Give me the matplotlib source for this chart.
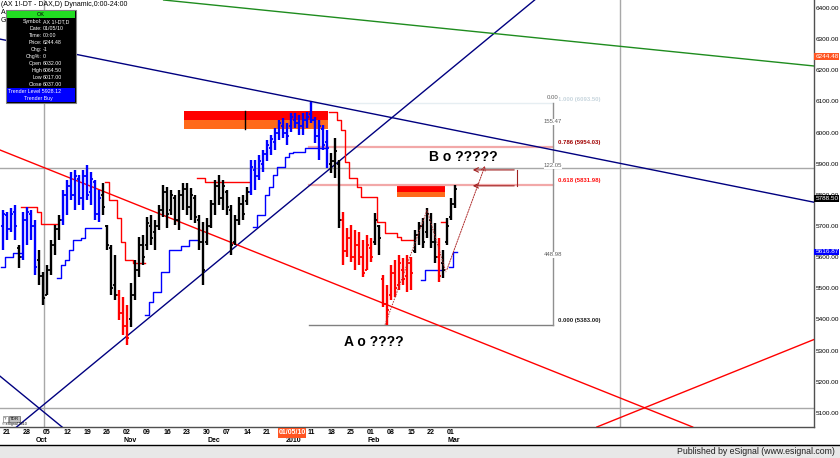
import matplotlib
matplotlib.use('Agg')
import matplotlib.pyplot as plt
import matplotlib.transforms as mtrans
from matplotlib.patches import Rectangle
import numpy as np
import pandas as pd

plt.rcParams['font.family'] = ['Liberation Sans', 'DejaVu Sans']

# ---------------- data ----------------
holidays = ['2009-12-24', '2009-12-25', '2009-12-31', '2010-01-01']
dates = [d for d in pd.bdate_range('2009-09-18', '2010-03-02')
         if d.strftime('%Y-%m-%d') not in holidays]
x = np.arange(len(dates)) - 1          # 0 = Mon 21 Sep 2009

high = [5751,5745,5758,5767,5639,5745,5761,5751,5719,5623,5552,
        5575,5655,5703,5735,5816,5848,5873,5880,5864,5880,
        5896,5873,5848,5816,5838,5703,5639,5607,5495,5472,
        5446,5517,5591,5665,5671,5729,5735,5719,5767,5832,
        5825,5816,5800,5816,5838,5838,5822,5800,5735,5713,
        5726,5783,5848,5864,5848,5816,5767,5735,5793,5800,
        5825,5912,5912,5928,5944,5976,5992,6015,6040,6047,
        6031,6063,6063,6056,6063,6066,6098,6050,6040,6024,
        6008,5934,5982,5912,5745,5694,5703,5687,5681,5655,
        5671,5661,5742,5703,5543,5511,5575,5591,5607,5597,
        5607,5600,5687,5713,5726,5758,5742,5710,5661,5623,
        5726,5790,5832]
low = [5623,5655,5681,5655,5565,5591,5639,5655,5543,5511,5446,
       5479,5543,5607,5655,5703,5735,5783,5751,5767,5751,
       5783,5767,5719,5713,5735,5623,5479,5462,5398,5350,
       5318,5376,5462,5536,5575,5623,5639,5623,5687,5729,
       5694,5735,5703,5687,5751,5735,5719,5710,5623,5511,
       5639,5694,5735,5767,5751,5735,5607,5639,5703,5719,
       5767,5800,5816,5848,5873,5909,5928,5944,5976,5982,
       5960,6002,6015,5992,5992,6015,6031,5966,5912,5944,
       5886,5870,5854,5694,5575,5600,5584,5559,5575,5536,
       5559,5584,5639,5607,5440,5382,5462,5472,5495,5511,
       5488,5495,5613,5639,5629,5661,5629,5581,5520,5533,
       5639,5719,5758]
opn = [5700,5735,5690,5745,5630,5600,5720,5740,5700,5590,5540,
       5480,5560,5640,5690,5720,5800,5830,5800,5850,5790,
       5860,5810,5840,5740,5800,5700,5630,5510,5480,5420,
       5380,5400,5480,5560,5640,5640,5700,5680,5700,5750,
       5810,5750,5790,5720,5800,5820,5760,5790,5720,5650,
       5650,5700,5770,5830,5790,5810,5750,5650,5720,5770,
       5780,5810,5880,5860,5900,5930,5950,5970,6000,6020,
       6000,6020,6040,6030,6020,6040,6060,6040,5990,6010,
       5970,5900,5910,5900,5720,5620,5660,5600,5640,5600,
       5560,5630,5650,5700,5530,5450,5480,5550,5510,5560,
       5540,5580,5620,5670,5700,5680,5720,5650,5600,5580,
       5650,5730,5770]
cls = [5740,5690,5740,5700,5600,5720,5745,5700,5570,5540,5470,
       5560,5640,5690,5720,5800,5830,5800,5860,5790,5860,
       5800,5850,5740,5790,5760,5640,5500,5480,5420,5380,
       5340,5480,5560,5640,5600,5710,5660,5700,5750,5810,
       5740,5800,5720,5800,5820,5760,5800,5730,5650,5560,
       5700,5770,5830,5790,5830,5760,5640,5720,5770,5740,
       5810,5890,5860,5910,5930,5960,5980,6000,6030,6000,
       5990,6050,6030,6020,6040,6050,6040,5990,6020,5960,
       5950,5910,5940,5720,5620,5660,5600,5640,5600,5550,
       5640,5600,5720,5660,5450,5430,5550,5500,5580,5530,
       5580,5550,5670,5700,5650,5740,5650,5600,5540,5560,
       5700,5770,5820]
bar_color = ("bbbb" "k" "bbbb" "kkkkkk" "bbbbbbbbbb" "kkkk" "rrr"
             "kkkkkkkkkkkkkkkkkkkkkkkkkkkkkk" "bbbbbbbbbbbbbbbbbbbb"
             "kkk" "rrrrrrrr" "kk" "rrrrrrrr" "kkkkkk" "r" "kkkk")

trender_blue = {-1: 5568, 0: 5600, 1: 5600, 2: 5613, 3: 5613,
                13: 5533, 14: 5575, 15: 5591, 16: 5623, 17: 5655, 18: 5655,
                19: 5661, 20: 5694, 21: 5694, 22: 5694, 23: 5694,
                35: 5414, 36: 5456, 37: 5488, 38: 5488, 39: 5552, 40: 5552,
                41: 5623, 42: 5623, 43: 5623, 44: 5636, 45: 5636, 46: 5655, 47: 5655,
                62: 5697, 63: 5735, 64: 5735, 65: 5800, 66: 5825, 67: 5864,
                68: 5889, 69: 5889, 70: 5921, 71: 5934, 72: 5938, 73: 5938,
                74: 5938, 75: 5950, 76: 5950, 77: 5950, 78: 5950, 79: 5950,
                104: 5527, 105: 5559, 106: 5559, 107: 5559, 108: 5559,
                111: 5568, 112: 5617}
trender_red = {4: 5761, 5: 5761, 6: 5761, 7: 5761, 8: 5745, 9: 5706, 10: 5706,
               11: 5706, 12: 5706,
               25: 5841, 26: 5783, 27: 5783, 28: 5726, 29: 5649, 30: 5591,
               31: 5591, 32: 5581, 33: 5581, 34: 5581,
               48: 5854, 49: 5854, 50: 5841, 51: 5841, 52: 5841, 53: 5841,
               54: 5841, 55: 5841, 56: 5841, 57: 5841, 58: 5841, 59: 5841, 60: 5841,
               81: 6066, 82: 6066, 83: 6040, 84: 6008, 85: 5905, 86: 5854,
               87: 5854, 88: 5825, 89: 5793, 90: 5793, 91: 5793, 92: 5793,
               93: 5713, 94: 5713, 95: 5678, 96: 5678, 97: 5678, 98: 5665,
               99: 5655, 100: 5655, 101: 5655,
               109: 5713}

# trend lines: two anchor points each (bar index, price)
navy_lines = [[(-1.75, 6300), (201.5, 5777)],
              [(25.75, 5302), (85.75, 5937)],
              [(-1.75, 5218), (13.75, 5055)]]
green_lines = [[(103.25, 6342), (201.5, 6214)]]
red_lines = [[(-1.75, 5944), (159.5, 5116)],
             [(147.5, 5055), (202.0, 5337)]]

# fibonacci tool
fib_start, fib_end = 75.5, 136.5
fib_levels = [("1.000", 6093.50), ("0.786", 5954.03), ("0.618", 5831.98), ("0.000", 5383.00)]
fib_measures = [("0.00", 6111), ("155.47", 6034), ("122.05", 5893), ("448.98", 5607)]

# supply zones: (x0, x1, red top, red/orange split, orange bottom)
zones = [(44.25, 80.25, 6069, 6040, 6011),
         (97.5, 109.5, 5832, 5809, 5793)]

zigzag = [(94.5, 5383), (105.0, 5751), (109.75, 5552), (119.75, 5902)]
target_box = (115.75, 127.5, 5880, 5829)

yticks = list(range(5100, 6401, 100))

# ---------------- figure ----------------
W, H = 840, 458
fig = plt.figure(figsize=(W / 100, H / 100), dpi=100)
fig.patch.set_facecolor('white')
ax = fig.add_axes([0, (H - 427) / H, 814 / W, 427 / H])
ax.set_xlim(-1.75, 201.75)
ax.set_ylim(5054.8, 6425.5)
ax.set_facecolor('white')
for s in ['left', 'top']:
    ax.spines[s].set_visible(False)
for s in ['right', 'bottom']:
    ax.spines[s].set_color('#505050')
    ax.spines[s].set_linewidth(1.0)
ax.set_xticks([])
ax.yaxis.tick_right()
ax.set_yticks(yticks)
ax.set_yticklabels([f"{v:.2f}" for v in yticks])
ax.tick_params(axis='y', length=0, pad=1.2, labelsize=4.6, labelcolor='black')

# crosshair-like gray lines
for xv in (9.25, 153.25):
    ax.axvline(xv, color='#A8A8A8', lw=1.0, zorder=1)
for yv in (5886, 5116):
    ax.axhline(yv, color='#A8A8A8', lw=1.0, zorder=1)

# zones
for x0, x1, top, mid, bot in zones:
    ax.add_patch(Rectangle((x0, mid), x1 - x0, top - mid, facecolor='#FF0000',
                           edgecolor='none', zorder=2))
    ax.add_patch(Rectangle((x0, bot), x1 - x0, mid - bot, facecolor='#FF6A1A',
                           edgecolor='none', zorder=2))
ax.plot([59.5, 59.5], [6011, 6069], color='black', lw=1.0, zorder=2.5)

# fib
fib_colors = {"1.000": '#E6EEF2', "0.786": '#F2A8A8', "0.618": '#F2A8A8', "0.000": '#808080'}
fib_lw = {"1.000": 1.0, "0.786": 1.6, "0.618": 1.6, "0.000": 1.0}
for name, lev in fib_levels:
    ax.plot([fib_start, fib_end], [lev, lev], color=fib_colors[name], lw=fib_lw[name], zorder=2)
ax.plot([fib_end, fib_end], [5383.0, 6093.5], color='#909090', lw=1.0, zorder=2)
lab_colors = {"1.000": '#C8D6DE', "0.786": '#A00000', "0.618": '#FF1010', "0.000": '#202020'}
for name, lev in fib_levels:
    ax.text(fib_end + 1.2, lev + 13, f"{name} ({lev:.2f})", fontsize=4.3,
            color=lab_colors[name], fontweight='bold', va='center', ha='left', zorder=6)
for txt, pv in fib_measures:
    ax.text(fib_end, pv, txt, fontsize=4.3, color='#606060', ha='center', va='center',
            zorder=6, bbox=dict(facecolor='white', edgecolor='none', pad=0.2))

# trend lines
for p1, p2 in navy_lines:
    ax.axline(p1, p2, color='#000080', lw=1.0, zorder=3)
for p1, p2 in green_lines:
    ax.axline(p1, p2, color='#1E8C1E', lw=1.0, zorder=3)
for p1, p2 in red_lines:
    ax.axline(p1, p2, color='#FF0000', lw=1.0, zorder=3)


def draw_steps(levels, color):
    idxs = sorted(levels)
    runs, cur = [], [idxs[0]]
    for i in idxs[1:]:
        if i == cur[-1] + 1:
            cur.append(i)
        else:
            runs.append(cur)
            cur = [i]
    runs.append(cur)
    for run in runs:
        xs, ys = [], []
        for i in run:
            xs += [i - 0.5, i + 0.5]
            ys += [levels[i], levels[i]]
        ax.plot(xs, ys, color=color, lw=1.0, zorder=4)


draw_steps(trender_blue, '#0000FF')
draw_steps(trender_red, '#FF0000')

# price bars
cmap = {'b': '#0000FF', 'k': '#000000', 'r': '#FF0000'}
cols = [cmap[c] for c in bar_color]
ax.vlines(x, low, high, colors=cols, lw=1.7, zorder=5)
ax.hlines(opn, x - 0.6, x, colors=cols, lw=1.3, zorder=5)
ax.hlines(cls, x, x + 0.6, colors=cols, lw=1.3, zorder=5)

# projection zigzag
zx = [p[0] for p in zigzag]
zy = [p[1] for p in zigzag]
ax.plot(zx[:-1], zy[:-1], color='#B03030', lw=0.7, ls=(0, (1.5, 1.2)), zorder=6)
ax.annotate('', xy=zigzag[-1], xytext=zigzag[-2],
            arrowprops=dict(arrowstyle='->', color='#B03030', lw=0.7, ls=(0, (1.5, 1.2)),
                            mutation_scale=7), zorder=6)
bx0, bx1, by0, by1 = target_box
ax.plot([bx1, bx1], [by0, by1], color='#A02020', lw=0.8, zorder=6)
for yy in (by0, by1):
    ax.annotate('', xy=(bx0, yy), xytext=(bx1, yy),
                arrowprops=dict(arrowstyle='->', color='#A02020', lw=0.8, mutation_scale=8),
                zorder=6)

ax.text(91.75, 5328, "A o ????", fontsize=10, fontweight='bold', ha='center', va='center', zorder=7)
ax.text(114.0, 5921, "B o ?????", fontsize=10, fontweight='bold', ha='center', va='center', zorder=7)

# right-axis value flags
ytr = mtrans.blended_transform_factory(ax.transAxes, ax.transData)
for val, col in [(6244.48, '#FF5522'), (5788.50, '#000000'), (5616.87, '#0000FF')]:
    ax.text(1.0015, val, f"{val:.2f}", transform=ytr, fontsize=4.6, color='white',
            ha='left', va='center', zorder=20, clip_on=False,
            bbox=dict(facecolor=col, edgecolor='none', pad=0.6))

# ---------------- overlay in pixel coordinates ----------------
ov = fig.add_axes([0, 0, 1, 1], zorder=10)
ov.set_xlim(0, W)
ov.set_ylim(H, 0)
ov.axis('off')
ov.patch.set_alpha(0)

# date labels (the cursor-date flag covers the weeks of 28 Dec and 04 Jan)
cursor_date = pd.Timestamp('2010-01-05')
hidden_from, hidden_to = pd.Timestamp('2009-12-28'), pd.Timestamp('2010-01-04')
xtr = mtrans.blended_transform_factory(ax.transData, ov.transData)
prev_week = None
for i, d in zip(x, dates):
    wk = d.isocalendar()[1]
    if prev_week is not None and wk != prev_week and not (hidden_from <= d <= hidden_to):
        ov.text(i, 432.5, d.strftime('%d'), transform=xtr, fontsize=5, fontweight='bold',
                ha='center', va='center')
    prev_week = wk
prev_month = dates[0].month
for i, d in zip(x, dates):
    if d.month != prev_month:
        lab = '2010' if d.month == 1 else d.strftime('%b')
        ov.text(i + 0.7, 441, lab, transform=xtr, fontsize=5, fontweight='bold',
                ha='center', va='center')
    prev_month = d.month
ov.add_patch(Rectangle((278, 428), 28, 9.5, facecolor='#FF5522', edgecolor='none', zorder=3))
ov.text(292, 432.8, cursor_date.strftime('%m/%d/%y'), fontsize=5, color='white', fontweight='bold',
        ha='center', va='center', zorder=4)

# bottom band
ov.add_patch(Rectangle((0, 444.5), W, 14, facecolor='#E8E8E8', edgecolor='none'))
ov.plot([0, W], [444.5, 444.5], color='black', lw=1.0)
ov.text(835, 451.5, "Published by eSignal (www.esignal.com)", fontsize=6.3,
        ha='right', va='center', color='#202020')

# title
ov.text(1, 4.5, "(AX 1!-DT - DAX,D) Dynamic,0:00-24:00", fontsize=5, ha='left', va='center')
ov.text(1, 12.5, "A", fontsize=5, ha='left', va='center')
ov.text(1, 20.5, "G", fontsize=5, ha='left', va='center')

# info box
ov.add_patch(Rectangle((6, 10), 70, 93, facecolor='black', edgecolor='#808080', lw=0.8, zorder=3))
ov.add_patch(Rectangle((7, 11), 68, 6.5, facecolor='#22DD22', edgecolor='none', zorder=4))
ov.text(41, 14.4, "OK", fontsize=4, ha='center', va='center', zorder=5)
info = [("Symbol:", "AX 1!-DT,D"), ("Date:", "01/05/10"), ("Time:", "00:00"),
        ("Price:", "6244.48"), ("Chg:", "-1"), ("Chg%:", "0"),
        ("Open", "6032.00"), ("High", "6064.50"), ("Low", "6017.00"), ("Close", "6037.00")]
for k, (lab, val) in enumerate(info):
    yy = 22 + k * 6.9
    ov.text(42, yy, lab, fontsize=3.8, color='white', ha='right', va='center', zorder=5)
    ov.text(43, yy, val, fontsize=3.8, color='white', ha='left', va='center', zorder=5)
ov.add_patch(Rectangle((7, 88), 68, 14, facecolor='#0000FF', edgecolor='none', zorder=4))
ov.text(35, 91.5, "Trender Level 5928.12", fontsize=3.8, color='white', ha='center', va='center', zorder=5)
ov.text(38, 98.5, "Trender Buy", fontsize=3.8, color='white', ha='center', va='center', zorder=5)

# bottom-left small badge
ov.add_patch(Rectangle((3, 416), 5, 6, facecolor='white', edgecolor='#808080', lw=0.5, zorder=3))
ov.text(5.5, 419, "?", fontsize=3.2, ha='center', va='center', zorder=4)
ov.add_patch(Rectangle((9, 416), 11, 6, facecolor='#C0C0C0', edgecolor='#606060', lw=0.5, zorder=3))
ov.text(14.5, 419, "TDR", fontsize=3.2, ha='center', va='center', zorder=4)
ov.text(2, 424, "\u00a9 eSignal 2010", fontsize=2.6, ha='left', va='center', zorder=4)

fig.savefig('out.png', dpi=100)
